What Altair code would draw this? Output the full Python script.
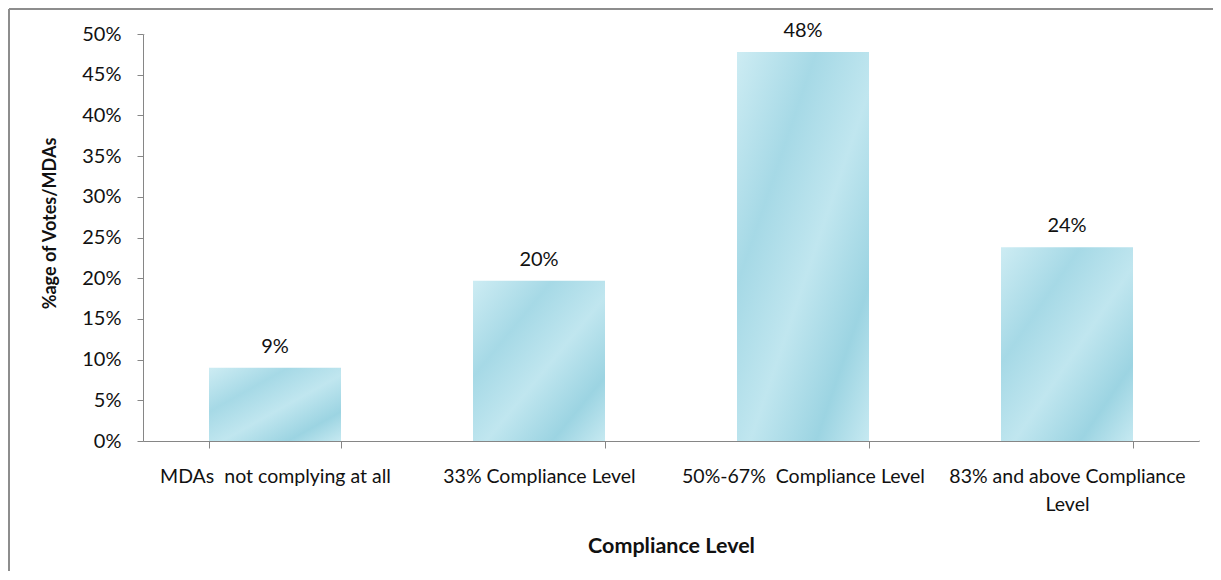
import altair as alt
import pandas as pd

categories = [
    "MDAs  not complying at all",
    "33% Compliance Level",
    "50%-67%  Compliance Level",
    "83% and above Compliance Level",
]
values = [0.090, 0.197, 0.478, 0.238]
labels = ["9%", "20%", "48%", "24%"]

df = pd.DataFrame({"cat": categories, "val": values, "lab": labels})

W, H = 1056, 407
FONT = "Lato"
NB = "\u00a0"

x = alt.X(
    "cat:N",
    sort=categories,
    scale=alt.Scale(paddingInner=0.5, paddingOuter=0.25),
    axis=alt.Axis(
        title="Compliance Level",
        grid=False,
        labelAngle=0,
        labelFont=FONT,
        labelFontSize=19.5,
        labelColor="#111",
        labelPadding=19,
        labelLimit=400,
        labelLineHeight=28,
        labelExpr=(
            "datum.label == '83% and above Compliance Level' ? "
            "['83% and above Compliance', 'Level'] : "
            "replace(datum.label, '  ', '" + NB + " ')"
        ),
        bandPosition=0,
        tickBand="extent",
        tickSize=7,
        tickColor="#868686",
        domainColor="#868686",
        titleFont=FONT,
        titleFontSize=21.5,
        titleFontWeight="bold",
        titleColor="#111",
        titleBaseline="middle",
        titleY=105,
    ),
)
y = alt.Y(
    "val:Q",
    scale=alt.Scale(domain=[0, 0.5]),
    axis=alt.Axis(
        title="%age of Votes/MDAs",
        format=".0%",
        values=[i / 100 for i in range(0, 51, 5)],
        grid=False,
        labelFont=FONT,
        labelFontSize=20,
        labelColor="#111",
        labelPadding=16,
        tickSize=6,
        tickColor="#868686",
        domainColor="#868686",
        titleFont=FONT,
        titleFontSize=18,
        titleFontWeight="bold",
        titleColor="#111",
        titleBaseline="middle",
        titleAngle=270,
        titleX=-93,
        titleY=189,
    ),
)

fill = alt.Gradient(
    gradient="linear",
    x1=0, x2=1, y1=0, y2=1,
    stops=[
        alt.GradientStop(color="#cdecf3", offset=0),
        alt.GradientStop(color="#a6d9e6", offset=0.3),
        alt.GradientStop(color="#c0e6ef", offset=0.55),
        alt.GradientStop(color="#9cd4e2", offset=0.8),
        alt.GradientStop(color="#c6e9f1", offset=1),
    ],
)

base = alt.Chart(df)
bars = base.mark_bar(color=fill).encode(x=x, y=y)
text = base.mark_text(
    baseline="bottom", dy=-11, font=FONT, fontSize=20, color="#111"
).encode(x=alt.X("cat:N", sort=categories), y="val:Q", text="lab:N")

# outer chart frame (left and top edges visible, the rest runs off the page)
border = base.mark_rule(color="#8c8c8c", strokeWidth=1.5).encode(
    x=alt.value(-134), x2=alt.value(W + 60), y=alt.value(-25)
)
border_left = base.mark_rule(color="#8c8c8c", strokeWidth=1.5).encode(
    x=alt.value(-134), y=alt.value(-25), y2=alt.value(H + 300)
)
# hide the plot-area right and top edge lines (drawn beneath the value labels)
cover = base.mark_rule(color="white", strokeWidth=4).encode(
    x=alt.value(W), y=alt.value(-2), y2=alt.value(H - 1)
)
cover_top = base.mark_rule(color="white", strokeWidth=3).encode(
    x=alt.value(2), x2=alt.value(W + 3), y=alt.value(0)
)

chart = (
    alt.layer(bars, cover, cover_top, text, border, border_left)
    .properties(
        width=W,
        height=H,
        autosize=alt.AutoSizeParams(type="none"),
        padding={"left": 135, "top": 26, "right": 14, "bottom": 130},
    )
    .configure_view(stroke="transparent", strokeWidth=0)
    .configure_axis(grid=False)
    .configure(background="white")
)

chart.save("out.html", embed_options={"renderer": "svg", "actions": False})
